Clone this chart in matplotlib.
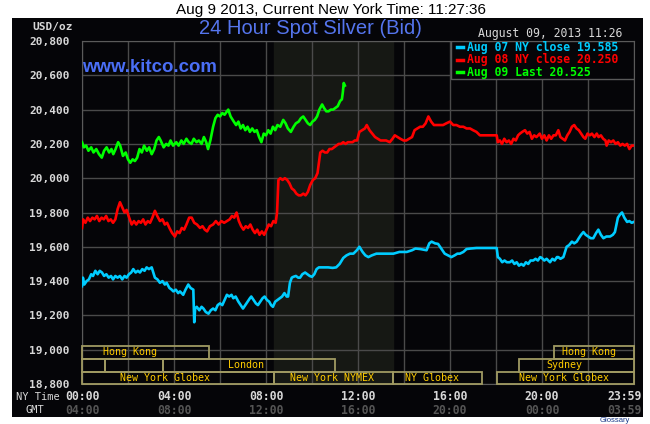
import matplotlib
matplotlib.use('Agg')
import matplotlib.pyplot as plt
from matplotlib.patches import Rectangle
from matplotlib.lines import Line2D
import matplotlib.transforms as mtransforms

# ---- data (hours after midnight New York time, price in USD/oz) ----
aug07_hours = [0.00, 0.04, 0.10, 0.20, 0.30, 0.40, 0.48, 0.58, 0.68, 0.77, 0.87, 0.96, 1.06, 1.16, 1.26,
               1.35, 1.45, 1.55, 1.65, 1.75, 1.85, 1.94, 2.04, 2.14, 2.23, 2.33, 2.43, 2.52, 2.62, 2.72,
               2.81, 2.91, 3.03, 3.10, 3.17, 3.28, 3.39, 3.50, 3.60, 3.68, 3.80, 3.90, 3.97, 4.08, 4.18,
               4.26, 4.40, 4.50, 4.62, 4.72, 4.84, 4.88, 4.92, 4.99, 5.10, 5.20, 5.28, 5.38, 5.50, 5.60,
               5.70, 5.80, 5.90, 6.00, 6.10, 6.20, 6.30, 6.40, 6.50, 6.58, 6.68, 6.80, 6.90, 7.00, 7.10,
               7.20, 7.30, 7.36, 7.46, 7.56, 7.65, 7.75, 7.85, 7.94, 8.04, 8.14, 8.22, 8.30, 8.40, 8.50,
               8.60, 8.70, 8.80, 8.90, 8.96, 9.04, 9.12, 9.19, 9.30, 9.40, 9.48, 9.58, 9.70, 9.80, 9.90,
               10.00, 10.10, 10.20, 10.30, 10.50, 10.70, 10.90, 11.05, 11.20, 11.36, 11.50, 11.65, 11.80,
               11.95, 12.06, 12.20, 12.32, 12.45, 12.60, 12.80, 12.96, 13.20, 13.40, 13.54, 13.80, 14.00,
               14.12, 14.35, 14.50, 14.70, 14.98, 15.10, 15.20, 15.35, 15.48, 15.62, 15.77, 15.92, 16.06,
               16.20, 16.32, 16.43, 16.58, 16.72, 16.90, 17.15, 18.03, 18.08, 18.17, 18.27, 18.37, 18.47,
               18.60, 18.70, 18.80, 18.90, 19.00, 19.10, 19.20, 19.30, 19.40, 19.50, 19.62, 19.72, 19.82,
               19.92, 19.99, 20.10, 20.20, 20.35, 20.45, 20.55, 20.65, 20.71, 20.80, 20.93, 21.00, 21.07,
               21.18, 21.30, 21.40, 21.51, 21.60, 21.70, 21.80, 21.90, 22.01, 22.12, 22.23, 22.35, 22.45,
               22.56, 22.67, 22.80, 22.96, 23.08, 23.17, 23.30, 23.40, 23.48, 23.58, 23.70, 23.80, 23.90,
               23.99]
aug07_price = [19.37, 19.42, 19.38, 19.40, 19.41, 19.44, 19.43, 19.46, 19.44, 19.46, 19.45, 19.43, 19.44,
               19.42, 19.43, 19.41, 19.43, 19.42, 19.43, 19.41, 19.43, 19.42, 19.44, 19.45, 19.47, 19.45,
               19.46, 19.45, 19.47, 19.46, 19.48, 19.47, 19.48, 19.45, 19.42, 19.41, 19.39, 19.40, 19.38,
               19.39, 19.36, 19.35, 19.34, 19.35, 19.33, 19.34, 19.32, 19.35, 19.38, 19.36, 19.35, 19.16,
               19.24, 19.25, 19.23, 19.25, 19.24, 19.22, 19.21, 19.23, 19.24, 19.23, 19.26, 19.27, 19.26,
               19.29, 19.32, 19.31, 19.32, 19.30, 19.31, 19.28, 19.26, 19.24, 19.26, 19.28, 19.30, 19.31,
               19.29, 19.27, 19.26, 19.28, 19.30, 19.31, 19.29, 19.28, 19.26, 19.25, 19.28, 19.29, 19.30,
               19.31, 19.33, 19.31, 19.31, 19.39, 19.42, 19.425, 19.43, 19.42, 19.42, 19.44, 19.45, 19.44,
               19.43, 19.425, 19.44, 19.47, 19.48, 19.48, 19.48, 19.477, 19.48, 19.50, 19.535, 19.55,
               19.56, 19.56, 19.58, 19.60, 19.57, 19.55, 19.54, 19.55, 19.56, 19.56, 19.56, 19.56, 19.56,
               19.57, 19.57, 19.57, 19.58, 19.59, 19.587, 19.58, 19.62, 19.63, 19.62, 19.617, 19.59, 19.56,
               19.55, 19.54, 19.55, 19.56, 19.56, 19.57, 19.587, 19.59, 19.593, 19.593, 19.54, 19.53,
               19.51, 19.52, 19.51, 19.51, 19.52, 19.50, 19.51, 19.49, 19.50, 19.49, 19.51, 19.50, 19.52,
               19.52, 19.53, 19.52, 19.54, 19.535, 19.52, 19.53, 19.51, 19.53, 19.52, 19.54, 19.54, 19.53,
               19.54, 19.57, 19.60, 19.61, 19.63, 19.62, 19.63, 19.65, 19.67, 19.686, 19.67, 19.66, 19.65,
               19.65, 19.68, 19.70, 19.67, 19.65, 19.66, 19.66, 19.67, 19.686, 19.77, 19.79, 19.80, 19.77,
               19.745, 19.75, 19.74, 19.745]

aug08_hours = [0.00, 0.05, 0.15, 0.25, 0.35, 0.45, 0.55, 0.65, 0.75, 0.85, 0.95, 1.05, 1.15, 1.25, 1.35,
               1.45, 1.55, 1.65, 1.75, 1.85, 1.94, 2.05, 2.16, 2.26, 2.36, 2.46, 2.56, 2.66, 2.76, 2.86,
               2.96, 3.06, 3.17, 3.27, 3.39, 3.50, 3.60, 3.70, 3.80, 3.92, 4.04, 4.14, 4.24, 4.34, 4.44,
               4.54, 4.66, 4.77, 4.88, 5.00, 5.13, 5.24, 5.34, 5.44, 5.56, 5.70, 5.82, 5.94, 6.06, 6.18,
               6.30, 6.42, 6.52, 6.62, 6.72, 6.82, 6.92, 7.02, 7.12, 7.22, 7.32, 7.42, 7.52, 7.62, 7.72,
               7.82, 7.92, 8.02, 8.12, 8.22, 8.32, 8.42, 8.48, 8.54, 8.62, 8.72, 8.82, 8.92, 9.02, 9.12,
               9.22, 9.32, 9.42, 9.52, 9.62, 9.72, 9.82, 9.92, 10.04, 10.14, 10.24, 10.30, 10.36, 10.46,
               10.56, 10.66, 10.76, 10.86, 10.96, 11.06, 11.16, 11.26, 11.36, 11.46, 11.56, 11.66, 11.76,
               11.86, 11.96, 12.06, 12.18, 12.30, 12.38, 12.50, 12.62, 12.74, 12.86, 12.98, 13.10, 13.22,
               13.38, 13.50, 13.60, 13.72, 13.84, 13.98, 14.10, 14.22, 14.35, 14.46, 14.58, 14.70, 14.82,
               14.94, 15.06, 15.18, 15.30, 15.42, 15.56, 15.70, 15.84, 16.00, 16.14, 16.28, 16.43, 16.58,
               16.72, 16.87, 17.00, 17.15, 17.30, 18.03, 18.08, 18.17, 18.26, 18.36, 18.46, 18.56, 18.66,
               18.76, 18.86, 18.96, 19.04, 19.14, 19.26, 19.36, 19.46, 19.56, 19.66, 19.76, 19.90, 20.00,
               20.10, 20.20, 20.30, 20.40, 20.50, 20.60, 20.71, 20.80, 20.90, 21.00, 21.10, 21.20, 21.30,
               21.40, 21.50, 21.60, 21.70, 21.80, 21.88, 21.98, 22.08, 22.17, 22.28, 22.38, 22.46, 22.56,
               22.66, 22.76, 22.81, 22.90, 23.00, 23.10, 23.20, 23.30, 23.40, 23.50, 23.60, 23.70, 23.80,
               23.90, 23.98]
aug08_price = [19.71, 19.76, 19.74, 19.77, 19.75, 19.77, 19.76, 19.78, 19.75, 19.77, 19.76, 19.78, 19.75,
               19.76, 19.74, 19.76, 19.82, 19.86, 19.83, 19.80, 19.815, 19.77, 19.73, 19.75, 19.73, 19.75,
               19.74, 19.76, 19.73, 19.75, 19.74, 19.77, 19.81, 19.78, 19.75, 19.76, 19.73, 19.74, 19.71,
               19.68, 19.66, 19.69, 19.68, 19.71, 19.70, 19.73, 19.77, 19.77, 19.74, 19.73, 19.71, 19.72,
               19.70, 19.69, 19.72, 19.73, 19.75, 19.73, 19.75, 19.74, 19.75, 19.76, 19.78, 19.77, 19.80,
               19.75, 19.72, 19.70, 19.72, 19.71, 19.73, 19.70, 19.68, 19.70, 19.67, 19.69, 19.67, 19.70,
               19.73, 19.72, 19.75, 19.74, 19.80, 19.99, 20.00, 19.99, 20.00, 19.99, 19.97, 19.94, 19.93,
               19.91, 19.90, 19.90, 19.91, 19.90, 19.92, 19.96, 19.99, 20.00, 20.03, 20.09, 20.15, 20.16,
               20.15, 20.15, 20.17, 20.17, 20.18, 20.19, 20.20, 20.20, 20.21, 20.20, 20.21, 20.21, 20.21,
               20.22, 20.22, 20.27, 20.28, 20.29, 20.31, 20.28, 20.26, 20.24, 20.23, 20.22, 20.22, 20.22,
               20.21, 20.23, 20.25, 20.24, 20.23, 20.22, 20.22, 20.23, 20.24, 20.28, 20.29, 20.30, 20.30,
               20.32, 20.36, 20.33, 20.31, 20.31, 20.31, 20.31, 20.32, 20.33, 20.31, 20.31, 20.30, 20.30,
               20.29, 20.29, 20.28, 20.27, 20.25, 20.25, 20.21, 20.22, 20.20, 20.23, 20.21, 20.22, 20.20,
               20.23, 20.22, 20.25, 20.26, 20.27, 20.28, 20.26, 20.27, 20.23, 20.25, 20.24, 20.26, 20.23,
               20.25, 20.22, 20.25, 20.23, 20.25, 20.25, 20.28, 20.24, 20.23, 20.22, 20.25, 20.27, 20.30,
               20.31, 20.29, 20.28, 20.26, 20.24, 20.23, 20.26, 20.25, 20.26, 20.24, 20.26, 20.24, 20.25,
               20.23, 20.22, 20.19, 20.22, 20.21, 20.22, 20.20, 20.21, 20.19, 20.20, 20.19, 20.20, 20.17,
               20.19, 20.19]

aug09_hours = [0.00, 0.08, 0.18, 0.28, 0.40, 0.50, 0.62, 0.74, 0.86, 0.96, 1.07, 1.18, 1.28, 1.36, 1.46,
               1.57, 1.66, 1.78, 1.90, 2.00, 2.10, 2.20, 2.30, 2.40, 2.50, 2.60, 2.70, 2.82, 2.92, 3.03,
               3.14, 3.24, 3.34, 3.42, 3.55, 3.66, 3.76, 3.85, 3.96, 4.10, 4.20, 4.32, 4.42, 4.54, 4.64,
               4.76, 4.86, 4.98, 5.08, 5.20, 5.30, 5.40, 5.48, 5.58, 5.70, 5.80, 5.90, 6.00, 6.10, 6.20,
               6.30, 6.36, 6.46, 6.60, 6.70, 6.80, 6.90, 7.00, 7.10, 7.20, 7.30, 7.40, 7.50, 7.60, 7.70,
               7.80, 7.90, 8.00, 8.10, 8.20, 8.30, 8.40, 8.50, 8.62, 8.75, 8.85, 8.95, 9.08, 9.20, 9.30,
               9.42, 9.52, 9.62, 9.72, 9.82, 9.92, 10.02, 10.12, 10.22, 10.32, 10.44, 10.52, 10.62, 10.72,
               10.82, 10.92, 11.02, 11.12, 11.22, 11.30, 11.34, 11.38, 11.43]
aug09_price = [20.21, 20.18, 20.19, 20.16, 20.18, 20.15, 20.17, 20.14, 20.12, 20.16, 20.18, 20.15, 20.17,
               20.14, 20.17, 20.21, 20.19, 20.13, 20.15, 20.11, 20.09, 20.11, 20.10, 20.12, 20.17, 20.15,
               20.19, 20.16, 20.18, 20.14, 20.17, 20.22, 20.24, 20.22, 20.18, 20.20, 20.19, 20.22, 20.19,
               20.21, 20.19, 20.22, 20.20, 20.23, 20.21, 20.20, 20.23, 20.21, 20.22, 20.20, 20.24, 20.21,
               20.17, 20.22, 20.30, 20.35, 20.37, 20.36, 20.38, 20.37, 20.39, 20.40, 20.36, 20.33, 20.31,
               20.33, 20.29, 20.31, 20.28, 20.30, 20.27, 20.29, 20.27, 20.28, 20.24, 20.21, 20.26, 20.25,
               20.28, 20.26, 20.30, 20.28, 20.31, 20.30, 20.34, 20.32, 20.29, 20.27, 20.30, 20.32, 20.33,
               20.35, 20.36, 20.34, 20.32, 20.31, 20.33, 20.34, 20.36, 20.40, 20.43, 20.41, 20.39, 20.39,
               20.40, 20.40, 20.41, 20.42, 20.45, 20.46, 20.50, 20.555, 20.54]

series_labels = ['Aug 07 NY close 19.585', 'Aug 08 NY close 20.250', 'Aug 09 Last 20.525']
series_colors = ['#00ccff', '#ff0000', '#00ff00']

yticks = [18.8, 19.0, 19.2, 19.4, 19.6, 19.8, 20.0, 20.2, 20.4, 20.6, 20.8]
ny_hours = [0, 4, 8, 12, 16, 20, 23.6]
ny_labels = ['00:00', '04:00', '08:00', '12:00', '16:00', '20:00', '23:59']
gmt_labels = ['04:00', '08:00', '12:00', '16:00', '20:00', '00:00', '03:59']

# COMEX floor session (shaded)
comex_start, comex_end = 8.33, 13.5

# market session boxes: (row, start, end, label, label_x)
sessions = [
    (0, 0.0, 5.5, 'Hong Kong', 2.09),
    (0, 20.5, 24.0, 'Hong Kong', 22.04),
    (1, 0.0, 1.0, '', 0),
    (1, 1.0, 3.5, '', 0),
    (1, 3.5, 11.0, 'London', 7.13),
    (1, 19.0, 24.0, 'Sydney', 20.98),
    (2, 0.0, 8.33, 'New York Globex', 3.63),
    (2, 8.33, 13.5, 'New York NYMEX', 10.87),
    (2, 13.5, 17.4, 'NY Globex', 15.2),
    (2, 18.05, 24.0, 'New York Globex', 20.96),
]
row_edges = [19.022, 18.946, 18.872, 18.8]

W, H = 650, 424
MONO = 'DejaVu Sans Mono'
SANS = ['Liberation Sans', 'DejaVu Sans']
BG = '#050508'

fig = plt.figure(figsize=(W / 100, H / 100), dpi=100)
fig.patch.set_facecolor('white')

# black panel behind the chart
fig.patches.append(Rectangle((12 / W, (H - 417) / H), (643 - 12) / W, (417 - 18) / H,
                             transform=fig.transFigure, facecolor=BG, edgecolor='none', zorder=-10))

ax = fig.add_axes([82 / W, (H - 384) / H, 552 / W, 343 / H])
ax.set_zorder(1)
ax.set_facecolor(BG)
ax.set_xlim(0, 24)
ax.set_ylim(18.8, 20.8)

ax.axvspan(comex_start, comex_end, color='#161814', zorder=0)

ax.set_xticks(range(0, 25, 2))
ax.set_xticklabels([])
ax.set_yticks(yticks)
ax.set_yticklabels([f'{v:.3f}'.replace('.', ',') for v in yticks],
                   fontfamily=MONO, fontweight='bold', fontsize=8, color='#d8d8d8')
ax.tick_params(length=0, pad=9)
ax.grid(True, color='#4a4a4a', linewidth=1)
ax.set_axisbelow(True)
for s in ax.spines.values():
    s.set_color('#5a5a5a')

for xs, ys, c in zip([aug07_hours, aug08_hours, aug09_hours],
                     [aug07_price, aug08_price, aug09_price], series_colors):
    ax.plot(xs, ys, color=c, linewidth=1.9, zorder=3)

# market session boxes
for row, a, b, label, lx in sessions:
    top, bot = row_edges[row], row_edges[row + 1]
    ax.add_patch(Rectangle((a, bot), b - a, top - bot, facecolor='none',
                           edgecolor='#a09a62', linewidth=1.3, zorder=4, clip_on=False))
    if label:
        ax.text(lx, (top + bot) / 2, label, ha='center', va='center', color='#ffcc00',
                fontfamily=MONO, fontsize=7.2, zorder=5)

# legend box in the top right corner (axes fraction coordinates)
leg_left, leg_bottom = 0.6685, 0.889
ax.add_patch(Rectangle((leg_left, leg_bottom), 1 - leg_left, 1 - leg_bottom, transform=ax.transAxes,
                       facecolor=BG, edgecolor='#5a5a5a', linewidth=1, zorder=6))
for i, (label, c) in enumerate(zip(series_labels, series_colors)):
    y = 0.9825 - i * 0.0365
    ax.add_line(Line2D([0.679, 0.690], [y, y], transform=ax.transAxes, color=c,
                       linewidth=2.5, zorder=7))
    ax.text(0.6975, y, label, transform=ax.transAxes, ha='left', va='center', color=c,
            fontfamily=MONO, fontweight='bold', fontsize=8.3, zorder=7)

# x tick labels (NY time and GMT)
trans = mtransforms.blended_transform_factory(ax.transData, fig.transFigure)
for h, ny, gmt in zip(ny_hours, ny_labels, gmt_labels):
    ax.text(h, (H - 397) / H, ny, transform=trans, ha='center', va='center', clip_on=False,
            fontfamily=MONO, fontweight='bold', fontsize=8.3, color='#d8d8d8')
    ax.text(h, (H - 410) / H, gmt, transform=trans, ha='center', va='center', clip_on=False,
            fontfamily=MONO, fontweight='bold', fontsize=8.3, color='#555555')
fig.text(60 / W, (H - 397) / H, 'NY Time', ha='right', va='center',
         fontfamily=MONO, fontsize=7.5, color='#d8d8d8')
fig.text(35 / W, (H - 410) / H, 'GMT', ha='center', va='center',
         fontfamily=MONO, fontsize=7.5, color='#d8d8d8')

# titles and labels
fig.text(331 / W, (H - 10) / H, 'Aug 9 2013, Current New York Time: 11:27:36', ha='center', va='center',
         fontfamily=SANS, fontsize=11, color='black')
fig.text(310 / W, (H - 29) / H, '24 Hour Spot Silver (Bid)', ha='center', va='center',
         fontfamily=SANS, fontsize=14.5, color='#5575ee')
fig.text(73 / W, (H - 27) / H, 'USD/oz', ha='right', va='center',
         fontfamily=MONO, fontweight='bold', fontsize=8, color='#d8d8d8')
fig.text(550 / W, (H - 34) / H, 'August 09, 2013 11:26', ha='center', va='center',
         fontfamily=MONO, fontsize=8.3, color='#d8d8d8')
fig.text(82 / W, (H - 68) / H, 'www.kitco.com', ha='left', va='center',
         fontfamily=SANS, fontweight='bold', fontsize=13.4, color='#4a6ef5')
fig.text(600 / W, 0.5 / H, 'Glossary', ha='left', va='bottom',
         fontfamily=SANS, fontsize=5.5, color='#1a3a8a')

fig.savefig('out.png', dpi=100, facecolor='white')
